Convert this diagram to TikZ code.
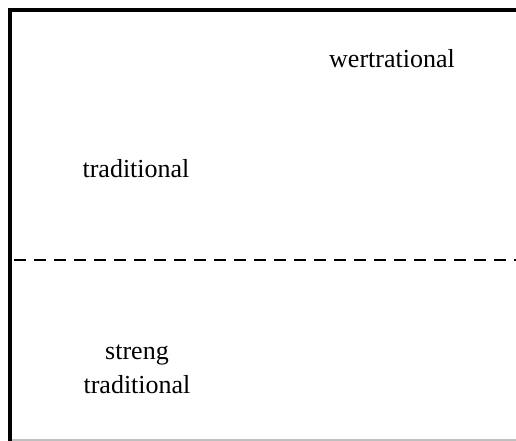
\documentclass[tikz,border=0pt]{standalone}
\usepackage{fontspec}
\setmainfont{Liberation Serif}
\begin{document}
\begin{tikzpicture}[x=1pt,y=-1pt,
  lbl/.style={inner sep=0pt,font=\fontsize{26}{34}\selectfont,align=center,anchor=base},
  frame/.style={line width=3.6pt,black},
  divider/.style={line width=2pt,dash pattern=on 12pt off 8pt},
  baseline/.style={line width=1.2pt,black!25}]
\useasboundingbox (0,0) rectangle (516,441);
\fill[white] (0,0) rectangle (516,441);
% frame
\draw[frame] (9.8,441) -- (9.8,9.8) -- (516,9.8);
\draw[baseline] (12,440) -- (516,440);
\draw[divider] (14,260) -- (516,260);
% labels
\node[lbl] (wert) at (392,68) {wertrational};
\node[lbl] (trad) at (136,177) {traditional};
\node[lbl] (streng) at (137,393) {streng\\traditional};
\end{tikzpicture}
\end{document}
